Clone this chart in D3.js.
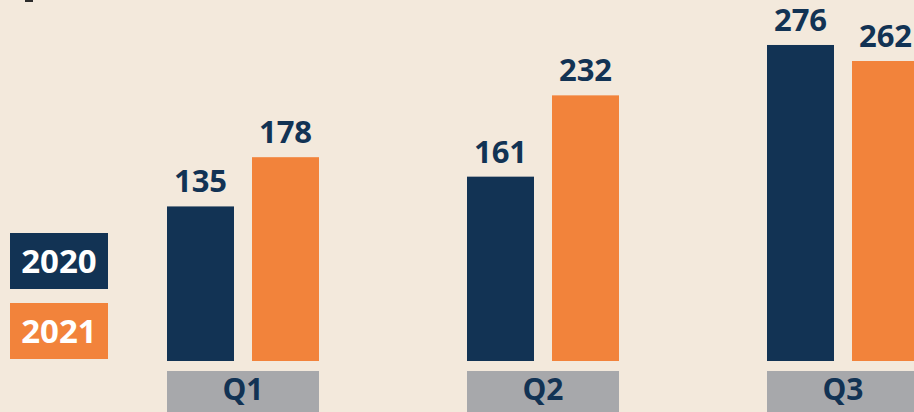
<!DOCTYPE html>
<html><head><meta charset="utf-8">
<script src="https://cdn.jsdelivr.net/npm/d3@7"></script>
<style>
html,body{margin:0;padding:0;background:#f3e9dc;overflow:hidden}
svg{display:block}
text{font-family:"Open Sans",sans-serif;font-weight:700}
</style></head>
<body>
<svg id="chart" width="914" height="412"></svg>
<script>
const categories = ["Q1","Q2","Q3"];
const seriesNames = ["2020","2021"];
const values2020 = [135,161,276];
const values2021 = [178,232,262];
const colors = ["#123354","#f2833b"];

const svg = d3.select("#chart");
svg.append("rect").attr("width",914).attr("height",412).attr("fill","#f3e9dc");
// cut-off title remnant
svg.append("rect").attr("x",25).attr("y",0).attr("width",8).attr("height",2).attr("fill","#2b2b2b");

const x0 = d3.scaleBand().domain(categories).range([167, 919]).paddingInner(148/300).paddingOuter(0);
const x1 = d3.scaleBand().domain(seriesNames).range([0, x0.bandwidth()]).paddingInner(18/85).paddingOuter(0);
const y = d3.scaleLinear().domain([0,300]).range([361, 17.5]);

const data = categories.map((c,i)=>({cat:c, vals:[{s:"2020",v:values2020[i],c:colors[0]},{s:"2021",v:values2021[i],c:colors[1]}]}));

const g = svg.selectAll("g.grp").data(data).join("g").attr("class","grp")
  .attr("transform",d=>`translate(${x0(d.cat)},0)`);

g.selectAll("rect.bar").data(d=>d.vals).join("rect").attr("class","bar")
  .attr("x",d=>x1(d.s)).attr("width",x1.bandwidth())
  .attr("y",d=>y(d.v)).attr("height",d=>y(0)-y(d.v)).attr("fill",d=>d.c);

g.selectAll("text.val").data(d=>d.vals).join("text").attr("class","val")
  .attr("x",d=>x1(d.s)+x1.bandwidth()/2).attr("y",d=>y(d.v)-14)
  .attr("text-anchor","middle").attr("font-size",31).attr("fill","#123354").text(d=>d.v);

// category label boxes
g.append("rect").attr("x",0).attr("y",371).attr("width",x0.bandwidth()).attr("height",50).attr("fill","#a7a8ab");
g.append("text").attr("x",x0.bandwidth()/2).attr("y",400).attr("text-anchor","middle")
  .attr("font-size",30).attr("fill","#123354").text(d=>d.cat);

// legend
const leg = svg.selectAll("g.leg").data(seriesNames).join("g").attr("class","leg")
  .attr("transform",(d,i)=>`translate(10,${233+i*70})`);
leg.append("rect").attr("width",98).attr("height",56).attr("fill",(d,i)=>colors[i]);
leg.append("text").attr("x",49).attr("y",39.5).attr("text-anchor","middle")
  .attr("font-size",33).attr("fill","#ffffff").text(d=>d);
</script>
</body></html>
